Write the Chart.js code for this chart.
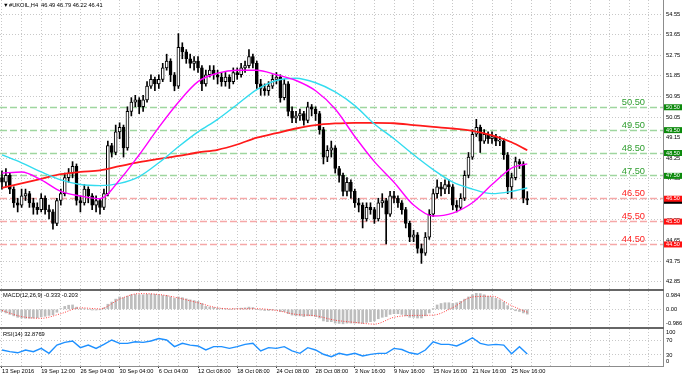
<!DOCTYPE html>
<html>
<head>
<meta charset="utf-8">
<script src="https://cdn.jsdelivr.net/npm/chart.js@4.4.0/dist/chart.umd.min.js"></script>
<style>
  body { margin: 0; background: #fff; font-family: 'Liberation Sans', Arial, sans-serif; }
  #wrap { position: relative; width: 685px; height: 377px; overflow: hidden; }
  canvas, .lbl, .sep { position: absolute; }
  .lbl { font-size: 5.7px; line-height: 7px; color: #000; white-space: pre; }
  .sep { left: 0; width: 664px; height: 2px; background: #666; }
</style>
</head>
<body>
<div id="wrap">
  <canvas id="main" width="685" height="289" style="left:0;top:0"></canvas>
  <div class="sep" style="top:289px"></div>
  <canvas id="macd" width="685" height="36" style="left:0;top:291px"></canvas>
  <div class="sep" style="top:327px"></div>
  <canvas id="rsi" width="685" height="48" style="left:0;top:329px"></canvas>
  <div class="lbl" style="left:3px;top:2px">▼</div>
  <div class="lbl" style="left:9px;top:2px">#UKOIL,H4</div>
  <div class="lbl" style="left:41px;top:2px">46.49 46.79 46.22 46.41</div>
  <div class="lbl" style="left:3px;top:292px">MACD(12,26,9) -0.333 -0.203</div>
  <div class="lbl" style="left:3px;top:330.5px">RSI(14) 32.8769</div>
</div>
<script>
// H4 candles, one entry per bar (13 Sep 2016 .. 25 Nov 2016)
const opens = [
  47.4,47.2,47.5,46.9,46.3,46.2,46.6,46.7,46.3,46.1,
  46.0,46.5,46.0,45.9,45.4,46.4,46.7,47.4,47.6,47.9,
  46.4,46.3,46.9,46.6,46.2,46.4,46.1,46.7,48.8,48.5,
  49.4,49.6,48.7,50.3,50.7,50.8,50.5,50.8,51.4,51.7,
  51.5,51.7,52.2,52.5,51.9,51.4,53.1,52.9,52.6,52.4,
  52.5,52.2,51.5,51.9,52.1,51.9,51.8,51.6,51.8,51.6,
  52.0,51.9,52.2,52.3,52.7,52.4,51.5,51.3,51.2,51.4,
  51.7,51.8,50.9,51.5,50.3,50.0,50.1,50.2,49.9,50.5,
  50.4,50.2,49.5,48.3,48.6,48.7,47.8,47.5,46.8,47.2,
  46.8,46.3,46.2,45.6,46.1,46.0,45.6,46.3,46.4,45.8,
  46.6,46.5,46.3,46.0,45.4,44.8,44.9,44.3,44.1,44.8,
  45.8,46.7,47.0,46.9,47.1,47.0,46.2,46.1,46.5,47.5,
  48.3,49.3,49.6,49.0,49.3,49.1,49.2,49.0,49.0,48.4,
  47.0,47.4,48.1,48.0,46.49
];
const highs = [
  47.7,47.8,47.6,47.0,46.5,46.9,46.9,46.8,46.5,46.3,
  46.7,46.6,46.2,46.0,46.5,46.9,47.6,47.8,48.1,48.0,
  46.6,47.1,47.0,46.7,46.6,46.5,46.9,49.0,48.9,49.7,
  49.8,49.7,50.5,50.9,51.0,50.9,51.0,51.6,51.9,51.8,
  51.9,52.4,52.8,52.6,52.0,53.7,53.3,53.0,52.8,52.7,
  52.7,52.3,52.1,52.3,52.3,52.1,52.0,52.0,51.9,52.2,
  52.2,52.4,52.5,53.0,52.8,52.5,51.7,51.5,51.6,51.9,
  52.0,51.9,51.7,51.6,50.5,50.3,50.4,50.3,50.7,50.6,
  50.5,50.3,49.6,48.8,49.0,48.8,47.9,47.6,47.4,47.3,
  46.9,46.5,46.3,46.3,46.3,46.1,46.5,46.7,46.5,46.8,
  46.8,46.6,46.4,46.1,45.5,45.1,45.0,44.5,45.0,46.0,
  46.9,47.3,47.2,47.3,47.3,47.1,46.4,46.7,47.7,48.5,
  49.5,49.95,49.7,49.5,49.4,49.4,49.3,49.2,49.1,48.5,
  47.6,48.3,48.2,48.1,46.79
];
const lows = [
  46.9,47.0,46.7,46.1,45.9,46.1,46.4,46.1,45.8,45.8,
  45.9,45.8,45.6,45.15,45.3,46.2,46.6,47.2,47.4,46.2,
  45.9,46.2,46.3,46.0,45.9,45.8,46.0,46.6,48.3,48.4,
  49.1,48.3,48.6,50.1,50.5,50.2,50.3,50.7,51.3,51.2,
  51.3,51.6,52.1,51.6,51.2,51.3,52.6,52.4,52.2,52.1,
  52.0,51.2,51.4,51.8,51.7,51.5,51.4,51.4,51.3,51.5,
  51.7,51.8,52.0,52.2,52.2,51.3,51.0,51.0,51.0,51.3,
  51.5,50.7,50.8,50.1,49.8,49.8,49.9,49.7,49.8,50.1,
  49.9,49.3,48.0,48.1,48.3,47.6,47.2,46.6,46.6,46.5,
  46.1,45.9,45.2,45.5,45.8,45.4,45.5,46.1,44.5,45.7,
  46.3,46.1,45.8,45.2,44.6,44.6,44.1,43.65,44.0,44.7,
  45.7,46.5,46.6,46.7,46.7,46.0,45.9,46.0,46.4,47.4,
  48.2,49.2,48.5,48.9,48.9,48.9,48.8,48.8,48.2,46.7,
  46.5,47.3,47.8,46.3,46.22
];
const closes = [
  47.2,47.5,46.9,46.3,46.2,46.6,46.7,46.3,46.1,46.0,
  46.5,46.0,45.9,45.4,46.4,46.7,47.4,47.6,47.9,46.4,
  46.3,46.9,46.6,46.2,46.4,46.1,46.7,48.8,48.5,49.4,
  49.6,48.7,50.3,50.7,50.8,50.5,50.8,51.4,51.7,51.5,
  51.7,52.2,52.5,51.9,51.4,53.1,52.9,52.6,52.4,52.5,
  52.2,51.5,51.9,52.1,51.9,51.8,51.6,51.8,51.6,52.0,
  51.9,52.2,52.3,52.7,52.4,51.5,51.3,51.2,51.4,51.7,
  51.8,50.9,51.5,50.3,50.0,50.1,50.2,49.9,50.5,50.4,
  50.2,49.5,48.3,48.6,48.7,47.8,47.5,46.8,47.2,46.8,
  46.3,46.2,45.6,46.1,46.0,45.6,46.3,46.4,45.8,46.6,
  46.5,46.3,46.0,45.4,44.8,44.9,44.3,44.1,44.8,45.8,
  46.7,47.0,46.9,47.1,47.0,46.2,46.1,46.5,47.5,48.3,
  49.3,49.6,49.0,49.3,49.1,49.2,49.0,49.0,48.4,47.0,
  47.4,48.1,48.0,46.5,46.41
];

// moving averages, read every 5 bars
const maIdx = [0,5,10,15,20,25,30,35,40,45,50,55,60,65,70,75,80,85,90,95,100,105,110,115,120,125,130,134];
const maFast = [47.6,47.65,47.3,46.8,46.6,46.48,47.3,48.4,49.6,50.7,51.6,51.97,52.1,52.1,51.9,51.65,51.2,50.4,49.2,48.1,47.2,46.2,45.72,45.85,46.3,47.1,47.82,48.0];
const maMid = [48.4,48.05,47.65,47.3,47.1,47.05,47.15,47.45,48.05,48.75,49.4,49.95,50.6,51.25,51.65,51.75,51.55,51.15,50.55,49.75,49.1,48.4,47.75,47.2,46.9,46.7,46.8,46.95];
const maSlow = [46.95,47.15,47.35,47.55,47.65,47.72,47.9,48.08,48.22,48.35,48.5,48.62,48.85,49.15,49.35,49.55,49.7,49.77,49.8,49.8,49.78,49.7,49.62,49.55,49.45,49.25,48.95,48.6];

// horizontal levels
const levelValues = [50.5, 49.5, 48.5, 47.5, 46.5, 45.5, 44.5];
const levelSide = ['up','up','up','up','down','down','down'];

// MACD(12,26,9): main per bar, signal every 5 bars
const macdMain = [
  -0.15,-0.25,-0.35,-0.45,-0.55,-0.6,-0.62,-0.62,-0.6,-0.58,
  -0.52,-0.48,-0.42,-0.38,-0.2,0.05,0.2,0.28,0.3,0.15,
  0.05,0.02,0.0,-0.05,-0.05,-0.02,0.1,0.35,0.5,0.7,
  0.85,0.8,0.9,1.0,1.02,1.0,1.0,1.03,1.05,1.03,
  1.0,0.95,0.95,0.85,0.75,0.85,0.8,0.72,0.65,0.6,
  0.55,0.4,0.2,0.15,0.12,0.08,0.05,0.02,0.0,0.03,
  0.05,0.08,0.1,0.15,0.12,0.0,-0.05,-0.08,-0.08,-0.05,
  -0.05,-0.15,-0.15,-0.3,-0.4,-0.45,-0.45,-0.5,-0.45,-0.45,
  -0.5,-0.6,-0.8,-0.85,-0.85,-0.95,-0.97,-1.0,-0.95,-0.95,
  -0.95,-0.95,-0.97,-0.9,-0.85,-0.8,-0.65,-0.55,-0.5,-0.35,
  -0.3,-0.3,-0.35,-0.45,-0.55,-0.55,-0.6,-0.6,-0.45,-0.25,
  0.05,0.3,0.4,0.45,0.45,0.4,0.45,0.55,0.7,0.85,
  1.0,1.1,1.08,1.0,0.9,0.85,0.75,0.65,0.5,0.25,
  0.05,-0.1,-0.15,-0.25,-0.333
];
const macdSignal = [-0.08,-0.5,-0.62,-0.3,0.1,0.03,0.7,1.08,1.02,0.78,0.45,0.1,0.03,0.04,-0.08,-0.35,-0.45,-0.75,-0.9,-1.02,-0.55,-0.42,-0.4,0.12,0.85,0.9,0.25,-0.203];
const macdTicks = [-0.986, 0, 0.984];

// RSI(14), read every 2 bars
const rsi = [
  43.6,39,36,43.6,39,48,34.5,57,64.5,68,
  50,57,48,59,70.8,61.7,61.7,66,64.5,68,
  75,71,52.7,61.7,57,54.5,43.6,52.7,52.7,48,
  52.7,59,61.7,41,50,48,52.7,41,34.5,50,
  43.6,32,25.5,34.5,30,34.5,27.3,31.8,34.5,34.5,
  48,45,36,32,43.6,66,59,59,54.5,64.5,
  77,61.7,57,59,57,33.6,52.7,32.88
];
const rsiTicks = [100, 70, 30, 0];

const priceTicks = [54.55,53.65,52.75,51.85,50.95,50.05,49.15,48.25,47.35,46.45,45.55,44.65,43.75,42.85];
const timeLabels = ['13 Sep 2016','19 Sep 12:00','26 Sep 04:00','30 Sep 04:00','6 Oct 04:00','12 Oct 08:00',
  '18 Oct 08:00','24 Oct 08:00','28 Oct 08:00','3 Nov 16:00','9 Nov 16:00','15 Nov 16:00','21 Nov 16:00','25 Nov 16:00'];

// ---- layout / style ----
const BARS_PER_LABEL = 10;
const X_MIN = -0.51, X_MAX = 168.62;
const FONT = 'Liberation Sans';
const axisFont = { family: FONT, size: 5.7 };
const GRID = '#c8c8c8';
const NONE = 'rgba(0,0,0,0)';
const LEVEL_STYLE = {
  up:   { line: '#9fd69f', text: '#2f9e2f', tag: '#0c8a0c' },
  down: { line: '#f6a8a8', text: '#ff2222', tag: '#ff1010' }
};

const barIdx = closes.map((_, i) => i);
const gridBars = [];
for (let v = 0; v <= X_MAX; v += BARS_PER_LABEL / 2) gridBars.push(v);
const rsiIdx = rsi.map((_, k) => Math.min(k * 2, closes.length - 1));

function fitY(s) { s.width = 22; s.paddingTop = 0; s.paddingBottom = 0; }

function xScale(showLabels) {
  return {
    type: 'linear', min: X_MIN, max: X_MAX, offset: false,
    afterBuildTicks: s => { s.ticks = gridBars.map(v => ({ value: v })); },
    grid: {
      color: GRID, offset: false, drawTicks: showLabels, tickLength: 2,
      tickColor: c => (c.tick && c.tick.value % BARS_PER_LABEL === 0 && timeLabels[c.tick.value / BARS_PER_LABEL]) ? '#333' : NONE
    },
    border: { display: showLabels, color: '#8c8c8c', dash: [1, 2] },
    ticks: {
      display: showLabels, align: 'start', padding: 0, autoSkip: false, maxRotation: 0, minRotation: 0,
      font: axisFont, color: '#000',
      callback: v => (v % BARS_PER_LABEL === 0 && timeLabels[v / BARS_PER_LABEL]) || ''
    },
    afterFit: s => { s.height = showLabels ? 11 : 0; s.paddingLeft = 0; s.paddingRight = 0; }
  };
}

const baseOptions = {
  responsive: false, animation: false, events: [],
  layout: { padding: 0, autoPadding: false },
  plugins: { legend: { display: false }, tooltip: { enabled: false } }
};

const levelPlugin = {
  id: 'levels',
  beforeDatasetsDraw(chart) {
    const { ctx, chartArea: a, scales: { y } } = chart;
    ctx.save();
    ctx.lineWidth = 1.5;
    ctx.setLineDash([7, 3]);
    levelValues.forEach((v, i) => {
      const py = Math.round(y.getPixelForValue(v)) + 0.5;
      ctx.strokeStyle = LEVEL_STYLE[levelSide[i]].line;
      ctx.beginPath(); ctx.moveTo(a.left, py); ctx.lineTo(a.right, py); ctx.stroke();
    });
    ctx.restore();
  },
  afterDatasetsDraw(chart) {
    const { ctx, chartArea: a, scales: { y } } = chart;
    ctx.save();
    ctx.font = '9.3px "' + FONT + '"';
    ctx.textAlign = 'right';
    ctx.textBaseline = 'alphabetic';
    levelValues.forEach((v, i) => {
      ctx.fillStyle = LEVEL_STYLE[levelSide[i]].text;
      ctx.fillText(v.toFixed(2), a.right - 18, y.getPixelForValue(v) - 1.8);
    });
    ctx.restore();
  },
  afterDraw(chart) {
    const { ctx, chartArea: a, scales: { y } } = chart;
    ctx.save();
    const last = closes[closes.length - 1];
    ctx.fillStyle = '#000';
    ctx.fillRect(a.right + 1, y.getPixelForValue(last) - 2.5, 18, 6);
    ctx.font = '5.5px "' + FONT + '"';
    ctx.textAlign = 'center';
    ctx.textBaseline = 'middle';
    levelValues.forEach((v, i) => {
      const py = y.getPixelForValue(v);
      ctx.fillStyle = LEVEL_STYLE[levelSide[i]].tag;
      ctx.fillRect(a.right + 1, py - 2.5, 18, 6);
      ctx.fillStyle = '#fff';
      ctx.fillText(v.toFixed(2), a.right + 10, py + 0.6);
    });
    ctx.restore();
  }
};

new Chart(document.getElementById('main'), {
  type: 'bar',
  data: {
    datasets: [
      { type: 'line', label: 'MA fast', data: maIdx.map((x, k) => ({ x, y: maFast[k] })),
        borderColor: '#ff00ff', borderWidth: 1.4, pointRadius: 0, cubicInterpolationMode: 'monotone', order: 0 },
      { type: 'line', label: 'MA mid', data: maIdx.map((x, k) => ({ x, y: maMid[k] })),
        borderColor: '#33dcef', borderWidth: 1.4, pointRadius: 0, cubicInterpolationMode: 'monotone', order: 0 },
      { type: 'line', label: 'MA slow', data: maIdx.map((x, k) => ({ x, y: maSlow[k] })),
        borderColor: '#ff1a1a', borderWidth: 1.8, pointRadius: 0, cubicInterpolationMode: 'monotone', order: 0 },
      { label: 'body', data: barIdx.map(i => ({ x: i, y: [opens[i], closes[i]] })),
        backgroundColor: barIdx.map(i => closes[i] >= opens[i] ? '#ffffff' : '#000000'),
        borderColor: '#000', borderWidth: 1, borderSkipped: false, barThickness: 3, minBarLength: 1,
        grouped: false, order: 1 },
      { label: 'wick', data: barIdx.map(i => ({ x: i, y: [lows[i], highs[i]] })),
        backgroundColor: '#000', barThickness: 1, grouped: false, order: 2 }
    ]
  },
  options: {
    ...baseOptions,
    scales: {
      x: xScale(false),
      y: {
        type: 'linear', position: 'right', min: 42.53, max: 55.17, beginAtZero: false,
        afterBuildTicks: s => { s.ticks = priceTicks.map(v => ({ value: v })); },
        ticks: { font: axisFont, color: '#000', padding: 3, callback: v => v.toFixed(2) },
        grid: { color: GRID, drawTicks: false },
        border: { color: '#8c8c8c', dash: [1, 2] },
        afterFit: fitY
      }
    }
  },
  plugins: [levelPlugin]
});

new Chart(document.getElementById('macd'), {
  type: 'bar',
  data: {
    datasets: [
      { type: 'line', label: 'Signal', data: maIdx.map((x, k) => ({ x, y: macdSignal[k] })),
        borderColor: '#ff3b3b', borderWidth: 1, borderDash: [1, 1.5], pointRadius: 0,
        cubicInterpolationMode: 'monotone', order: 0 },
      { label: 'MACD', data: barIdx.map(i => ({ x: i, y: macdMain[i] })),
        backgroundColor: '#bdbdbd', barThickness: 2, grouped: false, order: 1 }
    ]
  },
  options: {
    ...baseOptions,
    scales: {
      x: xScale(false),
      y: {
        type: 'linear', position: 'right', min: -1.218, max: 1.26, beginAtZero: false,
        afterBuildTicks: s => { s.ticks = macdTicks.map(v => ({ value: v })); },
        ticks: { font: axisFont, color: '#000', padding: 3, callback: v => v === 0 ? '0.00' : v.toFixed(3) },
        grid: { drawTicks: false, color: c => (c.tick && c.tick.value === 0) ? GRID : NONE },
        border: { color: '#8c8c8c', dash: [1, 2] },
        afterFit: fitY
      }
    }
  }
});

const rsiLabelPlugin = {
  id: 'rsiLabels',
  afterDraw(chart) {
    const { ctx, chartArea: a, scales: { y } } = chart;
    ctx.save();
    ctx.font = axisFont.size + 'px "' + FONT + '"';
    ctx.fillStyle = '#000';
    ctx.textAlign = 'left';
    ctx.textBaseline = 'middle';
    rsiTicks.forEach(v => {
      const py = Math.min(Math.max(y.getPixelForValue(v), a.top + 3.5), a.bottom - 4.5);
      ctx.fillText(String(v), a.right + 3, py);
    });
    ctx.restore();
  }
};

new Chart(document.getElementById('rsi'), {
  type: 'line',
  data: {
    datasets: [
      { label: 'RSI', data: rsiIdx.map((x, k) => ({ x, y: rsi[k] })),
        borderColor: '#1e90ff', borderWidth: 1.4, pointRadius: 0, tension: 0 }
    ]
  },
  options: {
    ...baseOptions,
    scales: {
      x: xScale(true),
      y: {
        type: 'linear', position: 'right', min: 0, max: 100.8,
        afterBuildTicks: s => { s.ticks = rsiTicks.map(v => ({ value: v })); },
        ticks: { display: false },
        grid: { drawTicks: false, color: c => (c.tick && (c.tick.value === 30 || c.tick.value === 70)) ? GRID : NONE },
        border: { color: '#8c8c8c', dash: [1, 2] },
        afterFit: fitY
      }
    }
  },
  plugins: [rsiLabelPlugin]
});
</script>
</body>
</html>
